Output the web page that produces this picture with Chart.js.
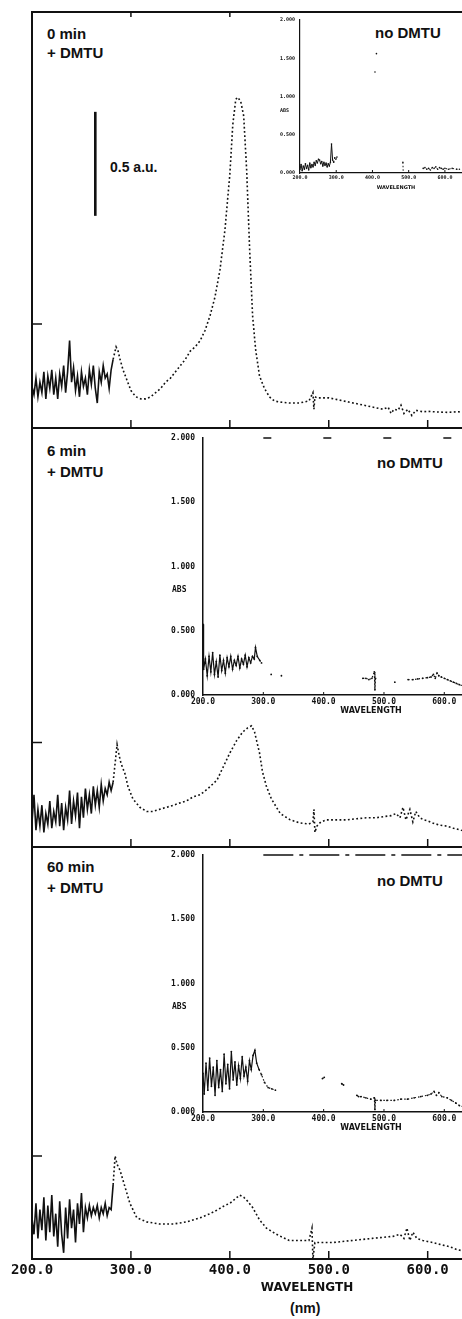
<!DOCTYPE html>
<html>
<head>
<meta charset="utf-8">
<script src="https://cdn.jsdelivr.net/npm/chart.js@4.4.1/dist/chart.umd.min.js"></script>
<style>
  html, body { margin: 0; padding: 0; background: #fff; }
  body { width: 462px; height: 1319px; position: relative; overflow: hidden;
         font-family: "Liberation Sans", Arial, sans-serif; color: #111; }
  canvas { position: absolute; }
  .lbl { position: absolute; font-weight: bold; font-size: 15px; white-space: nowrap; }
</style>
</head>
<body>
<div class="lbl" style="left:47px;top:24px;line-height:19px;">0 min<br>+ DMTU</div>
<div class="lbl" style="left:375px;top:23px;line-height:19px;">no DMTU</div>
<div class="lbl" style="left:110px;top:158px;font-size:14px;line-height:18px;">0.5 a.u.</div>
<div class="lbl" style="left:47px;top:440px;line-height:21px;">6 min<br>+ DMTU</div>
<div class="lbl" style="left:377px;top:453px;line-height:19px;">no DMTU</div>
<div class="lbl" style="left:47px;top:856px;line-height:21px;">60 min<br>+ DMTU</div>
<div class="lbl" style="left:377px;top:871px;line-height:19px;">no DMTU</div>
<div class="lbl" style="left:290px;top:1300px;font-size:14px;line-height:16px;">(nm)</div>

<script>
// ---- Spectra (absorbance, a.u.) --------------------------------------------
// Shared UV wavelength grid for the noisy 200-280 nm region of the main traces
const uvWl = [200,202,204,206,208,210,212,214,216,218,220,222,224,226,228,230,232,234,236,238,
              240,242,244,246,248,250,252,254,256,258,260,262,264,266,268,270,272,274,276,278,280];

// 0 min + DMTU
const uvAbs0 = [0.20,0.16,0.24,0.15,0.22,0.17,0.27,0.14,0.25,0.19,0.28,0.16,0.24,0.14,0.26,0.20,0.30,0.17,0.27,0.42,
                0.22,0.29,0.18,0.25,0.15,0.27,0.20,0.24,0.16,0.28,0.21,0.30,0.19,0.12,0.27,0.22,0.30,0.24,0.26,0.19,0.28];
const wl0 = [282,284,285,287,289,292,296,300,305,310,315,320,325,330,335,340,345,350,355,360,
             365,370,375,380,385,390,395,400,403,406,408,411,414,417,420,423,426,430,435,440,
             445,450,460,470,480,484,485,486,488,495,500,510,520,530,540,550,555,560,563,566,
             570,573,576,580,584,588,595,600,610,620,630,640];
const abs0 = [0.33,0.37,0.39,0.37,0.33,0.28,0.23,0.18,0.15,0.14,0.14,0.15,0.17,0.19,0.22,0.24,0.27,0.30,0.33,0.37,
              0.39,0.42,0.47,0.54,0.63,0.76,0.95,1.22,1.46,1.58,1.59,1.57,1.50,1.24,0.86,0.54,0.38,0.25,0.19,0.15,
              0.13,0.125,0.12,0.12,0.13,0.17,0.09,0.15,0.145,0.145,0.145,0.135,0.125,0.115,0.105,0.095,0.09,0.10,0.07,0.09,
              0.085,0.11,0.07,0.09,0.06,0.085,0.078,0.08,0.077,0.075,0.078,0.076];

// 6 min + DMTU
const uvAbs1 = [0.12,0.25,0.08,0.18,0.10,0.20,0.07,0.16,0.11,0.22,0.09,0.17,0.12,0.25,0.10,0.21,0.08,0.19,0.13,0.27,
                0.11,0.22,0.15,0.26,0.09,0.24,0.14,0.28,0.18,0.25,0.16,0.29,0.20,0.27,0.19,0.30,0.22,0.28,0.25,0.31,0.27];
const wl1 = [282,284,286,288,290,294,297,302,309,316,322,329,336,343,349,356,363,370,378,387,
             393,400,407,413,418,422,425,427,430,433,437,442,451,461,471,480,484,485,486,488,
             492,498,508,518,528,538,548,555,563,568,572,575,578,582,585,588,592,596,600,605,
             612,619,626,634,640];
const abs1 = [0.31,0.40,0.49,0.44,0.40,0.35,0.29,0.23,0.19,0.17,0.17,0.18,0.19,0.20,0.21,0.22,0.24,0.25,0.28,0.32,
              0.38,0.45,0.51,0.55,0.57,0.58,0.55,0.51,0.45,0.36,0.29,0.23,0.16,0.13,0.115,0.11,0.12,0.18,0.07,0.10,
              0.12,0.13,0.13,0.13,0.135,0.14,0.14,0.145,0.15,0.16,0.14,0.19,0.13,0.18,0.12,0.17,0.14,0.13,0.125,0.115,
              0.105,0.10,0.09,0.08,0.075];

// 60 min + DMTU
const uvAbs2 = [0.20,0.12,0.27,0.10,0.24,0.14,0.30,0.09,0.26,0.13,0.31,0.11,0.22,0.06,0.28,0.12,0.03,0.25,0.10,0.29,
                0.15,0.24,0.08,0.27,0.17,0.32,0.13,0.25,0.20,0.26,0.21,0.25,0.22,0.26,0.20,0.25,0.22,0.27,0.21,0.25,0.24];
const wl2 = [282,284,286,289,294,299,306,316,329,343,356,370,380,388,395,400,405,410,414,418,
             423,430,437,447,460,474,480,483,484,486,491,504,514,524,534,544,555,565,572,576,
             579,582,585,589,595,600,605,613,622,630,640];
const abs2 = [0.36,0.50,0.46,0.43,0.35,0.27,0.20,0.18,0.17,0.17,0.18,0.20,0.22,0.24,0.26,0.27,0.29,0.31,0.30,0.28,
              0.25,0.19,0.15,0.12,0.09,0.09,0.09,0.15,0.0,0.08,0.08,0.08,0.085,0.09,0.095,0.10,0.105,0.11,0.12,0.10,
              0.15,0.09,0.13,0.10,0.09,0.085,0.08,0.07,0.06,0.045,0.035];

// Inset traces, no DMTU (null = no visible trace)
const insWl0 = [200,203,206,209,212,215,218,221,224,227,230,233,236,239,242,245,248,251,254,257,
                260,263,266,269,272,275,278,281,284,287,290,293,296,299,302,305,407,408,411,412,
                484,485,486,540,545,550,555,560,565,570,575,580,585,590,595,600,610,620,632,640];
const insAbs0 = [0.05,0.11,0.03,0.09,0.05,0.12,0.06,0.10,0.04,0.13,0.07,0.11,0.08,0.14,0.10,0.16,0.13,0.18,0.17,0.12,
                 0.15,0.09,0.14,0.10,0.13,0.08,0.12,0.09,0.14,0.38,0.17,0.14,0.20,0.18,0.21,null,1.32,null,1.56,null,
                 0.14,0.0,null,0.06,0.07,0.05,0.06,0.04,0.07,0.06,0.08,0.05,0.07,0.06,0.05,0.06,0.05,0.06,0.05,0.05];

const insWl1 = [200,201,204,207,210,213,216,219,222,225,228,231,234,237,240,243,246,249,252,255,
                258,261,264,267,270,273,276,279,282,285,287,290,294,297,300,313,316,330,333,465,
                470,475,480,484,485,486,490,518,520,540,548,556,564,572,578,582,585,588,591,595,
                600,605,610,615,620,625,632];
const insAbs1 = [0.55,0.20,0.28,0.15,0.30,0.18,0.33,0.16,0.26,0.14,0.31,0.19,0.27,0.17,0.29,0.22,0.30,0.20,0.27,0.23,
                 0.30,0.21,0.28,0.24,0.31,0.22,0.29,0.25,0.30,0.28,0.37,0.30,0.27,0.25,null,0.16,null,0.15,null,0.13,
                 0.13,0.12,0.13,0.18,0.04,0.13,null,0.10,null,0.12,0.12,0.125,0.13,0.135,0.14,0.16,0.13,0.17,0.15,0.14,
                 0.13,0.12,0.11,0.10,0.09,0.08,0.07];

const insWl2 = [200,202,205,208,211,214,217,220,223,226,229,232,235,238,241,244,247,250,253,256,
                259,262,265,268,271,274,277,280,283,286,289,293,297,302,308,314,320,325,398,401,
                404,430,433,436,455,458,462,470,478,484,485,486,495,505,517,528,539,550,561,572,
                578,583,587,591,596,605,612,619,625,632];
const insAbs2 = [0.30,0.14,0.38,0.17,0.42,0.20,0.35,0.13,0.40,0.19,0.33,0.16,0.45,0.22,0.37,0.18,0.47,0.25,0.39,0.21,
                 0.36,0.26,0.43,0.28,0.35,0.24,0.40,0.33,0.44,0.48,0.38,0.33,0.29,0.23,0.19,0.18,0.17,null,0.26,0.27,
                 null,0.22,0.21,null,0.13,0.12,0.12,0.11,0.10,0.11,0.02,0.09,0.09,0.09,0.09,0.10,0.10,0.11,0.12,0.13,
                 0.14,0.16,0.13,0.15,0.12,0.11,0.09,0.07,0.05,0.04];

// Axis tick values
const wavelengthTicks = [300, 400, 500, 600];
const absTicks = [0.5];
const scaleBarAU = 0.5;

// ---- Drawing ----------------------------------------------------------------
const INK = '#111';

function pts(wl, ab) { return wl.map((x, i) => ({ x: x, y: ab[i] })); }

function makeCanvas(left, top, w, h) {
  const c = document.createElement('canvas');
  c.width = w; c.height = h;
  c.style.left = left + 'px'; c.style.top = top + 'px';
  c.style.width = w + 'px'; c.style.height = h + 'px';
  document.body.appendChild(c);
  return c;
}

// Keep the plot area fixed: no extra room reserved for overhanging tick labels
function noOverhang(s) { s.paddingLeft = 0; s.paddingRight = 0; s.paddingTop = 0; s.paddingBottom = 0; }

// Inner tick marks, frame pieces, scale bar and "ABS" tag drawn from the chart's scales
function marks(cfg) {
  return {
    id: 'marks',
    afterDraw(chart) {
      const { ctx, chartArea: a, scales: { x, y } } = chart;
      const seg = (x1, y1, x2, y2) => { ctx.beginPath(); ctx.moveTo(x1, y1); ctx.lineTo(x2, y2); ctx.stroke(); };
      ctx.save();
      ctx.strokeStyle = INK; ctx.fillStyle = INK;
      ctx.lineWidth = cfg.tickWidth || 1.5;
      (cfg.bottomTicks || []).forEach(v => { const p = x.getPixelForValue(v); seg(p, a.bottom, p, a.bottom - cfg.tickLen); });
      (cfg.topTicks || []).forEach(v => { const p = x.getPixelForValue(v); seg(p, a.top, p, a.top + cfg.topLen); });
      (cfg.leftTicks || []).forEach(v => { const p = y.getPixelForValue(v); seg(a.left, p, a.left + cfg.leftLen, p); });
      if (cfg.topBorder) {
        ctx.lineWidth = cfg.topBorder.width;
        ctx.setLineDash(cfg.topBorder.dash || []);
        seg(x.getPixelForValue(cfg.topBorder.from), a.top, a.right, a.top);
        ctx.setLineDash([]);
      }
      if (cfg.scaleBar) {
        ctx.lineWidth = 2.6;
        const p = x.getPixelForValue(cfg.scaleBar.at);
        seg(p, y.getPixelForValue(cfg.scaleBar.base), p, y.getPixelForValue(cfg.scaleBar.base + cfg.scaleBar.size));
      }
      if (cfg.absLabel) {
        ctx.font = cfg.absLabel.font;
        ctx.textAlign = 'left'; ctx.textBaseline = 'middle';
        ctx.fillText('ABS', a.left - cfg.absLabel.dx, y.getPixelForValue(cfg.absLabel.at));
      }
      ctx.restore();
    }
  };
}

function mainPanel(top, height, uvAbs, wl, abs, showX, extra) {
  const canvas = makeCanvas(0, top, 582, height);
  new Chart(canvas, {
    type: 'line',
    data: {
      datasets: [{
        data: pts(uvWl.concat(wl), uvAbs.concat(abs)),
        borderColor: INK, borderWidth: 1.6, pointRadius: 0, tension: 0, spanGaps: false,
        segment: { borderDash: s => (s.p0.parsed.x >= 281 ? [1.8, 2.4] : undefined) }
      }]
    },
    options: {
      responsive: false, animation: false, devicePixelRatio: 1, events: [],
      layout: { padding: { top: 2, left: 0, right: 0, bottom: 0 } },
      plugins: { legend: { display: false }, tooltip: { enabled: false } },
      scales: {
        x: {
          type: 'linear', min: 200, max: 756,
          grid: { display: false, drawTicks: false },
          border: { display: true, color: INK, width: 2 },
          ticks: {
            display: showX, stepSize: 100, autoSkip: false, maxRotation: 0, color: INK, padding: 3,
            font: { family: 'DejaVu Sans Mono', weight: 'bold', size: 14 },
            callback: v => v.toFixed(1)
          },
          title: {
            display: showX, text: 'WAVELENGTH', color: INK, padding: { top: 0, bottom: 0 },
            font: { family: 'DejaVu Sans', weight: 'bold', size: 12 }
          },
          afterFit: s => { s.height = showX ? 36 : 2; noOverhang(s); }
        },
        y: {
          min: 0, max: 2,
          grid: { display: false, drawTicks: false },
          border: { display: true, color: INK, width: 2 },
          ticks: { display: false },
          afterFit: s => { s.width = 32; noOverhang(s); }
        }
      }
    },
    plugins: [marks(Object.assign({
      bottomTicks: wavelengthTicks, tickLen: 8,
      leftTicks: absTicks, leftLen: 10
    }, extra || {}))]
  });
}

function inset(o) {
  const canvas = makeCanvas(o.left, o.top, o.width, o.height);
  new Chart(canvas, {
    type: 'line',
    data: {
      datasets: [{
        data: pts(o.wl, o.abs),
        borderColor: INK, borderWidth: o.lw, pointRadius: o.pr, pointBorderWidth: 0,
        pointBackgroundColor: INK, tension: 0, spanGaps: false,
        segment: { borderDash: s => (s.p0.parsed.x >= 292 ? [1.5, 2] : undefined) }
      }]
    },
    options: {
      responsive: false, animation: false, devicePixelRatio: 1, events: [],
      layout: { padding: { top: 6, left: 0, right: 0, bottom: 0 } },
      plugins: { legend: { display: false }, tooltip: { enabled: false } },
      scales: {
        x: {
          type: 'linear', min: 200, max: o.xMax,
          grid: { display: false, drawTicks: false },
          border: { display: true, color: INK, width: o.axisW, dash: o.xDash },
          ticks: {
            stepSize: 100, autoSkip: false, maxRotation: 0, color: INK, padding: 2,
            font: { family: 'DejaVu Sans Mono', weight: 'bold', size: o.fs },
            callback: v => (v % 100 === 0 ? v.toFixed(1) : '')
          },
          title: {
            display: true, text: 'WAVELENGTH', color: INK, padding: { top: 0, bottom: o.titlePb },
            font: { family: 'DejaVu Sans', weight: 'bold', size: o.fs }
          },
          afterFit: s => { s.height = o.xH; noOverhang(s); }
        },
        y: {
          min: 0, max: 2,
          grid: { display: false, drawTicks: false },
          border: { display: true, color: INK, width: o.axisW, dash: o.yDash },
          ticks: {
            stepSize: 0.5, color: INK, padding: o.yPad,
            font: { family: 'DejaVu Sans Mono', weight: 'bold', size: o.fs },
            callback: v => v.toFixed(3)
          },
          afterFit: s => { s.width = 50; noOverhang(s); }
        }
      }
    },
    plugins: [marks({
      bottomTicks: wavelengthTicks, tickLen: 3, tickWidth: 1,
      topBorder: o.topBorder,
      absLabel: { font: 'bold ' + o.fs + 'px DejaVu Sans Mono', dx: o.absDx, at: 0.82 }
    })]
  });
}

// Main traces, with DMTU
mainPanel(10, 420, uvAbs0, wl0, abs0, false,
  { topTicks: [300, 400], topLen: 5, topBorder: { width: 2, from: 200 },
    scaleBar: { at: 264, base: 1.02, size: scaleBarAU } });
mainPanel(427, 422, uvAbs1, wl1, abs1, false);
mainPanel(845, 450, uvAbs2, wl2, abs2, true);

// Insets, no DMTU
inset({ left: 250, top: 14, width: 246, height: 179, xMax: 730, wl: insWl0, abs: insAbs0,
        lw: 1, pr: 0.8, fs: 5, xH: 20, titlePb: 2, yPad: 5, axisW: 1.2,
        xDash: [6, 3], yDash: [4, 3], absDx: 20 });
inset({ left: 153, top: 432, width: 390, height: 287, xMax: 757, wl: insWl1, abs: insAbs1,
        lw: 1.2, pr: 0.9, fs: 8, xH: 24, titlePb: 3, yPad: 8, axisW: 1.5,
        xDash: [], yDash: [7, 5], absDx: 31,
        topBorder: { width: 1.5, from: 300, dash: [8, 52] } });
inset({ left: 153, top: 849, width: 390, height: 287, xMax: 757, wl: insWl2, abs: insAbs2,
        lw: 1.2, pr: 0.9, fs: 8, xH: 24, titlePb: 3, yPad: 8, axisW: 1.5,
        xDash: [], yDash: [6, 4], absDx: 31,
        topBorder: { width: 1.5, from: 300, dash: [30, 6, 4, 6] } });
</script>
</body>
</html>
